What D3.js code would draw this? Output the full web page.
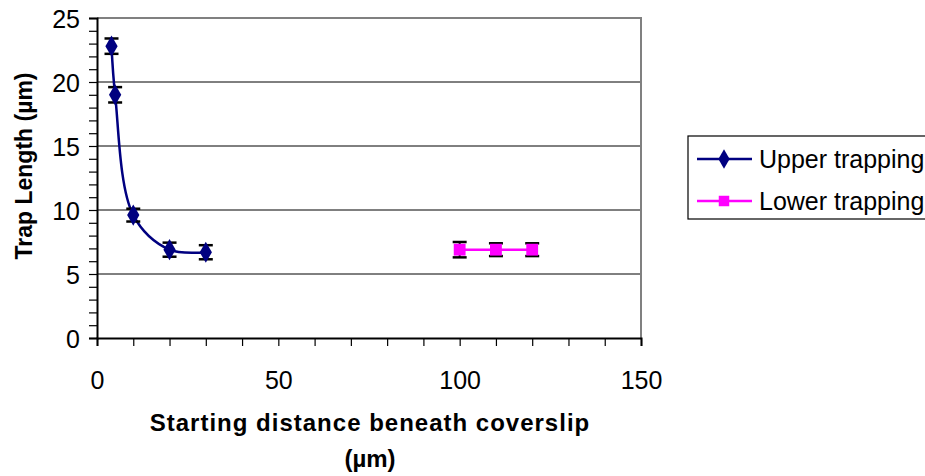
<!DOCTYPE html>
<html>
<head>
<meta charset="utf-8">
<script src="https://cdn.jsdelivr.net/npm/d3@7"></script>
<style>
  body { margin: 0; background: #fff; overflow: hidden; }
  text { font-family: Arial, "Liberation Sans", sans-serif; }
</style>
</head>
<body>
<svg id="chart" width="925" height="476"></svg>
<script>
// data
const upperX = [4, 5, 10, 20, 30];
const upperY = [22.8, 19.0, 9.6, 6.9, 6.7];
const upperErr = [0.6, 0.6, 0.5, 0.55, 0.55];
const lowerX = [100, 110, 120];
const lowerY = [6.9, 6.9, 6.9];
const lowerErr = [0.6, 0.5, 0.5];
const xTicks = [0, 50, 100, 150];
const yTicks = [0, 5, 10, 15, 20, 25];
const seriesNames = ["Upper trapping", "Lower trapping"];

const svg = d3.select('#chart');
const pLeft = 97, pRight = 641, pTop = 18, pBottom = 338;

const x = d3.scaleLinear().domain([0, 150]).range([pLeft, pRight]);
const y = d3.scaleLinear().domain([0, 25]).range([pBottom, pTop]);

// gridlines
svg.append('g')
  .selectAll('line')
  .data(yTicks.filter(d => d > 0 && d < 25))
  .enter().append('line')
  .attr('x1', pLeft).attr('x2', pRight)
  .attr('y1', d => y(d)).attr('y2', d => y(d))
  .attr('stroke', '#000').attr('stroke-width', 1);

// plot border top / right (gray)
svg.append('path')
  .attr('d', `M${pLeft},${y(25)}H${pRight}V${pBottom}`)
  .attr('fill', 'none').attr('stroke', '#808080').attr('stroke-width', 2);

// y axis
const yAxis = d3.axisLeft(y).tickValues(d3.range(0, 26, 1)).tickSize(8)
  .tickFormat(d => yTicks.includes(d) ? d : '');
const gy = svg.append('g').attr('transform', `translate(${pLeft},0)`).call(yAxis);
gy.select('.domain').attr('stroke', '#000').attr('stroke-width', 2);
gy.selectAll('.tick line').attr('stroke', '#000').attr('stroke-width', 1.2);
gy.selectAll('.tick text').attr('font-size', 25).attr('fill', '#000').attr('x', -17).attr('dy', '0.36em');

// x axis
const xAxis = d3.axisBottom(x).tickValues(d3.range(0, 151, 10)).tickSize(8)
  .tickFormat(d => xTicks.includes(d) ? d : '');
const gx = svg.append('g').attr('transform', `translate(0,${pBottom})`).call(xAxis);
gx.select('.domain').attr('stroke', '#000').attr('stroke-width', 2);
gx.selectAll('.tick line').attr('stroke', '#000').attr('stroke-width', 1.2);
gx.selectAll('.tick text').attr('font-size', 25).attr('fill', '#000').attr('y', 33);

// axis titles
svg.append('text')
  .attr('transform', `translate(32,166) rotate(-90)`)
  .attr('text-anchor', 'middle')
  .attr('font-size', 23).attr('font-weight', 'bold')
  .text('Trap Length (µm)');
svg.append('text')
  .attr('x', 370).attr('y', 431)
  .attr('text-anchor', 'middle')
  .attr('font-size', 24).attr('font-weight', 'bold')
  .attr('letter-spacing', 1)
  .text('Starting distance beneath coverslip');
svg.append('text')
  .attr('x', 370).attr('y', 467)
  .attr('text-anchor', 'middle')
  .attr('font-size', 24).attr('font-weight', 'bold')
  .text('(µm)');

const upper = upperX.map((d, i) => ({x: d, y: upperY[i], e: upperErr[i]}));
const lower = lowerX.map((d, i) => ({x: d, y: lowerY[i], e: lowerErr[i]}));

function drawSeries(data, color, curve, marker) {
  const line = d3.line().x(d => x(d.x)).y(d => y(d.y)).curve(curve);
  svg.append('path').datum(data)
    .attr('d', line).attr('fill', 'none')
    .attr('stroke', color).attr('stroke-width', 2.5);

  const eb = svg.append('g').selectAll('g').data(data).enter().append('g');
  eb.append('line')
    .attr('x1', d => x(d.x)).attr('x2', d => x(d.x))
    .attr('y1', d => y(d.y + d.e)).attr('y2', d => y(d.y - d.e))
    .attr('stroke', '#000').attr('stroke-width', 2);
  eb.append('line')
    .attr('x1', d => x(d.x) - 7).attr('x2', d => x(d.x) + 7)
    .attr('y1', d => y(d.y + d.e)).attr('y2', d => y(d.y + d.e))
    .attr('stroke', '#000').attr('stroke-width', 2.5);
  eb.append('line')
    .attr('x1', d => x(d.x) - 7).attr('x2', d => x(d.x) + 7)
    .attr('y1', d => y(d.y - d.e)).attr('y2', d => y(d.y - d.e))
    .attr('stroke', '#000').attr('stroke-width', 2.5);

  svg.append('g').selectAll('path').data(data).enter().append('path')
    .attr('transform', d => `translate(${x(d.x)},${y(d.y)})`)
    .attr('d', d3.symbol().type(marker.type).size(marker.size))
    .attr('fill', color);
}

drawSeries(upper, '#000080', d3.curveCatmullRom.alpha(0.5), {type: d3.symbolDiamond, size: 130});
drawSeries(lower, '#ff00ff', d3.curveLinear, {type: d3.symbolSquare, size: 140});

// legend
const lg = svg.append('g');
lg.append('rect')
  .attr('x', 688).attr('y', 136).attr('width', 260).attr('height', 83)
  .attr('fill', '#fff').attr('stroke', '#000').attr('stroke-width', 1.2);
const legendItems = [
  {name: seriesNames[0], color: '#000080', type: d3.symbolDiamond, cy: 159},
  {name: seriesNames[1], color: '#ff00ff', type: d3.symbolSquare, cy: 201}
];
const li = lg.selectAll('g').data(legendItems).enter().append('g');
li.append('line')
  .attr('x1', 697).attr('x2', 752).attr('y1', d => d.cy).attr('y2', d => d.cy)
  .attr('stroke', d => d.color).attr('stroke-width', 2.5);
li.append('path')
  .attr('transform', d => `translate(724,${d.cy})`)
  .attr('d', d => d3.symbol().type(d.type).size(110)())
  .attr('fill', d => d.color);
li.append('text')
  .attr('x', 759).attr('y', d => d.cy).attr('dy', '0.36em')
  .attr('font-size', 25)
  .text(d => d.name);
</script>
</body>
</html>
